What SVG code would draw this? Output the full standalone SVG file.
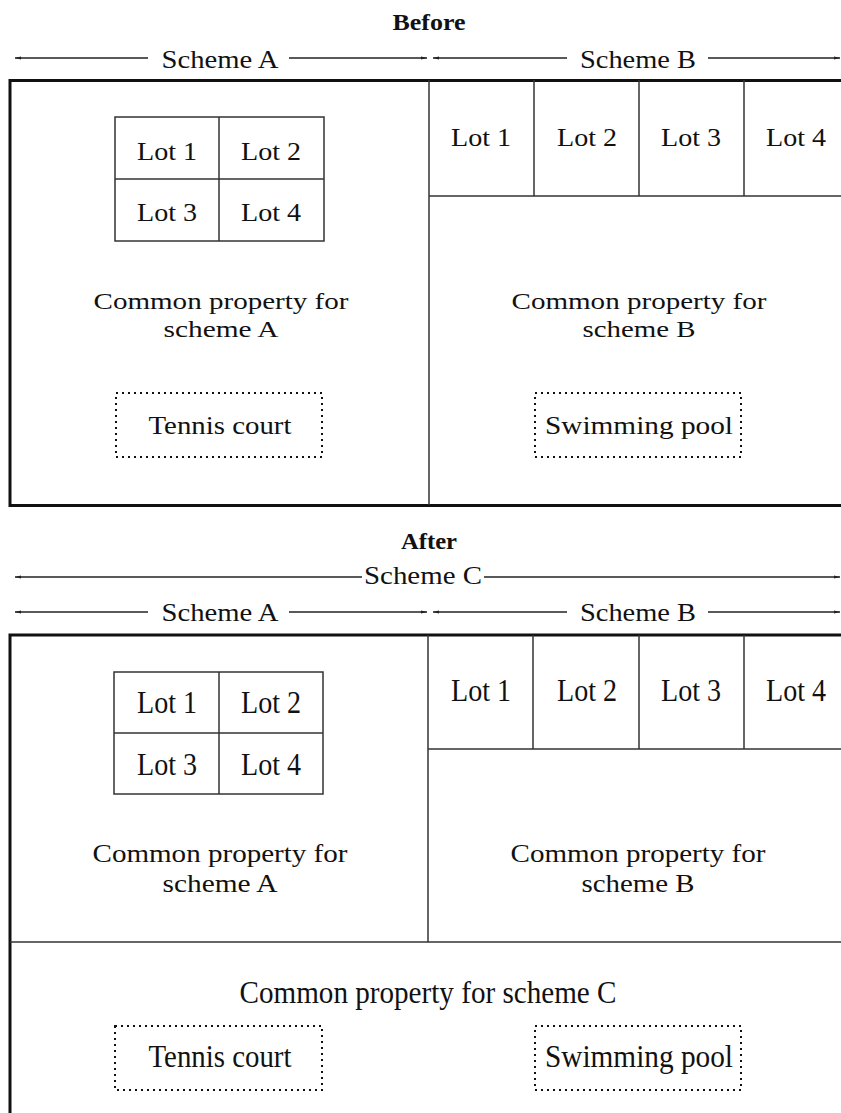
<svg xmlns="http://www.w3.org/2000/svg" width="841" height="1113" viewBox="0 0 841 1113">
<style>
text{font-family:"Liberation Serif","Times New Roman",serif;fill:#111;text-anchor:middle}
.hd{font-size:24px;font-weight:bold}
.sc{font-size:25px}
.b{font-size:26px}
.bc{font-size:23.5px}
.a{font-size:31px}
.ac{font-size:26px}
.outer{fill:none;stroke:#111;stroke-width:3}
.ln{fill:none;stroke:#333;stroke-width:1.5}
.dot{fill:none;stroke:#111;stroke-width:2;stroke-dasharray:2 4}
.arr1{fill:none;stroke:#222;stroke-width:1.3}
</style>
<defs>
<marker id="ahe" markerUnits="userSpaceOnUse" markerWidth="8" markerHeight="6" refX="6" refY="3" orient="auto">
<path d="M0,1.4 L6,3 L0,4.6 z" fill="#222"/>
</marker>
<marker id="ahs" markerUnits="userSpaceOnUse" markerWidth="8" markerHeight="6" refX="6" refY="3" orient="auto-start-reverse">
<path d="M0,1.4 L6,3 L0,4.6 z" fill="#222"/>
</marker>
</defs>

<!-- ===== BEFORE ===== -->
<g id="before-title"><text class="hd" x="429" y="30" textLength="73" lengthAdjust="spacingAndGlyphs">Before</text></g>

<g id="before-connectors">
<line class="arr1" x1="15" y1="58" x2="148" y2="58" marker-start="url(#ahs)"/>
<line class="arr1" x1="289" y1="58" x2="427" y2="58" marker-end="url(#ahe)"/>
<line class="arr1" x1="433" y1="58" x2="567" y2="58" marker-start="url(#ahs)"/>
<line class="arr1" x1="708" y1="58" x2="840" y2="58" marker-end="url(#ahe)"/>
</g>
<g id="before-scheme-a-label"><text class="sc" x="220" y="68" textLength="117" lengthAdjust="spacingAndGlyphs">Scheme A</text></g>
<g id="before-scheme-b-label"><text class="sc" x="638" y="68" textLength="116" lengthAdjust="spacingAndGlyphs">Scheme B</text></g>

<g id="before-frame">
<rect class="outer" x="10" y="80.5" width="860" height="425"/>
<line class="ln" x1="429" y1="80" x2="429" y2="505"/>
</g>

<g id="before-b-lots">
<line class="ln" x1="429" y1="196" x2="841" y2="196"/>
<line class="ln" x1="534" y1="80" x2="534" y2="196"/>
<line class="ln" x1="639" y1="80" x2="639" y2="196"/>
<line class="ln" x1="744" y1="80" x2="744" y2="196"/>
<text class="b" x="481" y="146" textLength="60" lengthAdjust="spacingAndGlyphs">Lot 1</text>
<text class="b" x="587" y="146" textLength="60" lengthAdjust="spacingAndGlyphs">Lot 2</text>
<text class="b" x="691" y="146" textLength="60" lengthAdjust="spacingAndGlyphs">Lot 3</text>
<text class="b" x="796" y="146" textLength="60" lengthAdjust="spacingAndGlyphs">Lot 4</text>
</g>

<g id="before-a-lots">
<rect class="ln" x="115" y="117" width="209" height="124"/>
<line class="ln" x1="219" y1="117" x2="219" y2="241"/>
<line class="ln" x1="115" y1="179" x2="324" y2="179"/>
<text class="b" x="167" y="160" textLength="60" lengthAdjust="spacingAndGlyphs">Lot 1</text>
<text class="b" x="271" y="160" textLength="60" lengthAdjust="spacingAndGlyphs">Lot 2</text>
<text class="b" x="167" y="221" textLength="60" lengthAdjust="spacingAndGlyphs">Lot 3</text>
<text class="b" x="271" y="221" textLength="60" lengthAdjust="spacingAndGlyphs">Lot 4</text>
</g>

<g id="before-common-a">
<text class="bc" x="221" y="309" textLength="255" lengthAdjust="spacingAndGlyphs">Common property for</text>
<text class="bc" x="221" y="337" textLength="115" lengthAdjust="spacingAndGlyphs">scheme A</text>
</g>
<g id="before-common-b">
<text class="bc" x="639" y="309" textLength="255" lengthAdjust="spacingAndGlyphs">Common property for</text>
<text class="bc" x="639" y="337" textLength="113" lengthAdjust="spacingAndGlyphs">scheme B</text>
</g>

<g id="before-tennis">
<rect class="dot" x="116" y="393" width="206" height="64"/>
<text class="b" x="220" y="434" textLength="143" lengthAdjust="spacingAndGlyphs">Tennis court</text>
</g>
<g id="before-pool">
<rect class="dot" x="535" y="393" width="206" height="64"/>
<text class="b" x="639" y="434" textLength="188" lengthAdjust="spacingAndGlyphs">Swimming pool</text>
</g>

<!-- ===== AFTER ===== -->
<g id="after-title"><text class="hd" x="429" y="549" textLength="56" lengthAdjust="spacingAndGlyphs">After</text></g>

<g id="after-connectors">
<line class="arr1" x1="15" y1="577" x2="362" y2="577" marker-start="url(#ahs)"/>
<line class="arr1" x1="484" y1="577" x2="840" y2="577" marker-end="url(#ahe)"/>
<line class="arr1" x1="15" y1="612" x2="148" y2="612" marker-start="url(#ahs)"/>
<line class="arr1" x1="289" y1="612" x2="427" y2="612" marker-end="url(#ahe)"/>
<line class="arr1" x1="433" y1="612" x2="567" y2="612" marker-start="url(#ahs)"/>
<line class="arr1" x1="708" y1="612" x2="840" y2="612" marker-end="url(#ahe)"/>
</g>
<g id="after-scheme-c-label"><text class="sc" x="423" y="584" textLength="118" lengthAdjust="spacingAndGlyphs">Scheme C</text></g>
<g id="after-scheme-a-label"><text class="sc" x="220" y="621" textLength="117" lengthAdjust="spacingAndGlyphs">Scheme A</text></g>
<g id="after-scheme-b-label"><text class="sc" x="638" y="621" textLength="116" lengthAdjust="spacingAndGlyphs">Scheme B</text></g>

<g id="after-frame">
<rect class="outer" x="10" y="635" width="860" height="520"/>
<line class="ln" x1="428" y1="635" x2="428" y2="942"/>
<line class="ln" x1="10" y1="942" x2="841" y2="942"/>
</g>

<g id="after-b-lots">
<line class="ln" x1="428" y1="749" x2="841" y2="749"/>
<line class="ln" x1="533" y1="635" x2="533" y2="749"/>
<line class="ln" x1="639" y1="635" x2="639" y2="749"/>
<line class="ln" x1="744" y1="635" x2="744" y2="749"/>
<text class="a" x="481" y="701" textLength="60" lengthAdjust="spacingAndGlyphs">Lot 1</text>
<text class="a" x="587" y="701" textLength="60" lengthAdjust="spacingAndGlyphs">Lot 2</text>
<text class="a" x="691" y="701" textLength="60" lengthAdjust="spacingAndGlyphs">Lot 3</text>
<text class="a" x="796" y="701" textLength="60" lengthAdjust="spacingAndGlyphs">Lot 4</text>
</g>

<g id="after-a-lots">
<rect class="ln" x="114" y="672" width="209" height="122"/>
<line class="ln" x1="219" y1="672" x2="219" y2="794"/>
<line class="ln" x1="114" y1="733" x2="323" y2="733"/>
<text class="a" x="167" y="713" textLength="60" lengthAdjust="spacingAndGlyphs">Lot 1</text>
<text class="a" x="271" y="713" textLength="60" lengthAdjust="spacingAndGlyphs">Lot 2</text>
<text class="a" x="167" y="775" textLength="60" lengthAdjust="spacingAndGlyphs">Lot 3</text>
<text class="a" x="271" y="775" textLength="60" lengthAdjust="spacingAndGlyphs">Lot 4</text>
</g>

<g id="after-common-a">
<text class="ac" x="220" y="862" textLength="255" lengthAdjust="spacingAndGlyphs">Common property for</text>
<text class="ac" x="220" y="892" textLength="115" lengthAdjust="spacingAndGlyphs">scheme A</text>
</g>
<g id="after-common-b">
<text class="ac" x="638" y="862" textLength="255" lengthAdjust="spacingAndGlyphs">Common property for</text>
<text class="ac" x="638" y="892" textLength="113" lengthAdjust="spacingAndGlyphs">scheme B</text>
</g>

<g id="after-common-c">
<text class="a" x="428" y="1003" textLength="377" lengthAdjust="spacingAndGlyphs">Common property for scheme C</text>
</g>

<g id="after-tennis">
<rect class="dot" x="115" y="1026" width="207" height="64"/>
<text class="a" x="220" y="1067" textLength="143" lengthAdjust="spacingAndGlyphs">Tennis court</text>
</g>
<g id="after-pool">
<rect class="dot" x="535" y="1026" width="206" height="64"/>
<text class="a" x="639" y="1067" textLength="188" lengthAdjust="spacingAndGlyphs">Swimming pool</text>
</g>
</svg>
